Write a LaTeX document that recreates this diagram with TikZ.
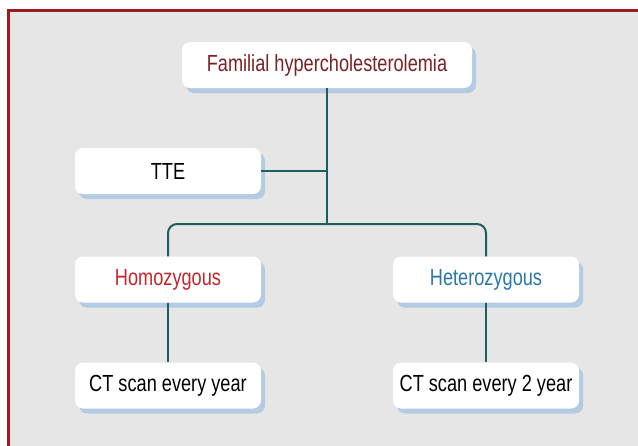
\documentclass[tikz,border=0pt]{standalone}
\usepackage{fontspec}
\setmainfont{Liberation Sans}[FakeStretch=0.78]
\usetikzlibrary{shadows}
\definecolor{framered}{HTML}{9B1B1E}
\definecolor{bggrey}{HTML}{E6E6E6}
\definecolor{shadowblue}{HTML}{B3CBE3}
\definecolor{linkteal}{HTML}{1F5E60}
\definecolor{titlered}{HTML}{7B2226}
\definecolor{homored}{HTML}{C1272D}
\definecolor{heteroblue}{HTML}{2B79A6}
\tikzset{
  box/.style={draw=none, fill=white, rounded corners=8pt, minimum height=46pt,
    minimum width=186pt, inner sep=0pt, font=\fontsize{23.3}{26}\selectfont,
    general shadow={fill=shadowblue, shadow xshift=4pt, shadow yshift=-5pt}},
  link/.style={draw=linkteal, line width=2pt}
}
\begin{document}
\begin{tikzpicture}[x=1pt,y=-1pt]
\useasboundingbox (0,0) rectangle (638,445);
\begin{scope}
\clip (0,0) rectangle (638,445);
\fill[white] (0,0) rectangle (638,445);
\filldraw[fill=bggrey, draw=framered, line width=2.5pt] (8.5,10.5) rectangle (660,470);
\end{scope}
\node[box, minimum width=290pt, text=titlered] (top) at (327,65) {Familial hypercholesterolemia};
\node[box] (tte) at (168,171) {TTE};
\node[box, text=homored] (homo) at (168,279.5) {Homozygous};
\node[box, text=heteroblue] (hetero) at (486,279.5) {Heterozygous};
\node[box] (ct1) at (168,385.5) {CT scan every year};
\node[box] (ct2) at (486,385.5) {CT scan every 2 year};
\coordinate (hb) at (327,224);
\draw[link] (top.south) -- (hb);
\draw[link] (tte.east) -- (tte.east -| top.south);
\draw[link, rounded corners=9pt] (homo.north) |- (hb) -| (hetero.north);
\draw[link] (homo.south) -- (ct1.north);
\draw[link] (hetero.south) -- (ct2.north);
\end{tikzpicture}
\end{document}
